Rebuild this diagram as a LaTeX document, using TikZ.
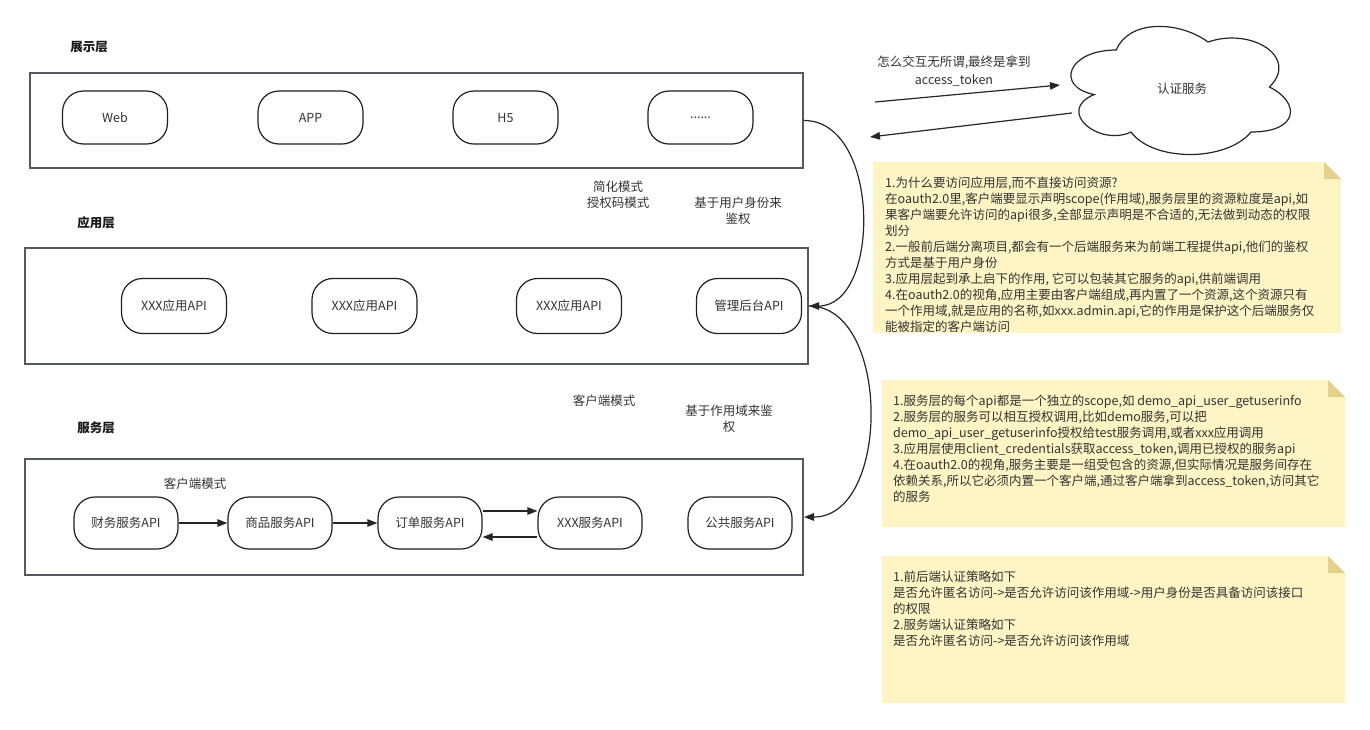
\documentclass[tikz,border=0pt]{standalone}
\usepackage{fontspec}
\setmainfont{Noto Sans CJK SC}
\usetikzlibrary{arrows.meta}
\definecolor{txt}{HTML}{333333}
\definecolor{layergray}{HTML}{55595E}
\definecolor{notefill}{HTML}{FFF4C3}
\definecolor{notefold}{HTML}{E6D08C}
\newcommand\fs{\fontsize{12.5}{16}\selectfont}
\newcommand\mynote[4]{%
  \fill[notefill] (#1,#2) -- ({#1+#3-17},#2) -- ({#1+#3},{#2+17}) -- ({#1+#3},{#2+#4}) -- (#1,{#2+#4}) -- cycle;
  \fill[notefold] ({#1+#3-17},#2) -- ({#1+#3-17},{#2+17}) -- ({#1+#3},{#2+17}) -- cycle;}
\begin{document}
\begin{tikzpicture}[x=1pt,y=-1pt,
  layer/.style={draw=layergray, line width=2pt, inner sep=0pt},
  pill/.style={draw=black!88, line width=1.2pt, rounded corners=21pt, minimum width=105pt, minimum height=53pt, font=\fs, text=txt, inner sep=0pt},
  head/.style={font=\fs\bfseries, text=black!90, inner sep=0pt},
  lbl/.style={font=\fs, text=txt, align=center, inner sep=0pt},
  arr/.style={draw=black!85, line width=1.2pt, -{Triangle[length=10pt,width=7.5pt]}},
  notetxt/.style={font=\fs, text=txt, inner sep=0pt, anchor=base west}]
\useasboundingbox (0,0) rectangle (1370,729);

% headers
\node[head] (h1) at (89,47) {展示层};
\node[head] (h2) at (96,223) {应用层};
\node[head] (h3) at (96,428) {服务层};

% layer boxes
\node[layer, minimum width=773pt, minimum height=95pt] (L1) at (416.5,120.5) {};
\node[layer, minimum width=783pt, minimum height=116pt] (L2) at (416.5,306) {};
\node[layer, minimum width=778pt, minimum height=116pt] (L3) at (414,517) {};

% presentation layer
\node[pill] (web) at (115,117.5) {Web};
\node[pill] (app) at (310.5,117.5) {APP};
\node[pill] (h5) at (505.5,117.5) {H5};
\node[pill] (more) at (700.5,117.5) {......};

% application layer
\node[pill, minimum height=55pt] (a1) at (174,306) {XXX应用API};
\node[pill, minimum height=55pt] (a2) at (364.5,306) {XXX应用API};
\node[pill, minimum height=55pt] (a3) at (569,306) {XXX应用API};
\node[pill, minimum height=55pt] (a4) at (749,306) {管理后台API};

% service layer
\node[pill, minimum width=104pt, minimum height=52pt] (s1) at (126,523) {财务服务API};
\node[pill, minimum width=104pt, minimum height=52pt] (s2) at (280,523) {商品服务API};
\node[pill, minimum width=104pt, minimum height=52pt] (s3) at (430,523) {订单服务API};
\node[pill, minimum width=104pt, minimum height=52pt] (s4) at (590,523) {XXX服务API};
\node[pill, minimum width=104pt, minimum height=52pt] (s5) at (740,523) {公共服务API};

\draw[arr] (s1) -- (s2);
\draw[arr] (s2) -- (s3);
\draw[arr] ([yshift=12pt]s3.east) -- ([yshift=12pt]s4.west);
\draw[arr] ([yshift=-14pt]s4.west) -- ([yshift=-14pt]s3.east);

% labels
\node[lbl] (l1) at (618,195) {简化模式\\授权码模式};
\node[lbl] (l2) at (738,211) {基于用户身份来\\鉴权};
\node[lbl] (l3) at (604,401) {客户端模式};
\node[lbl] (l4) at (729,419) {基于作用域来鉴\\权};
\node[lbl] (l5) at (195,484) {客户端模式};

% curves between layers
\draw[arr] (L1.east) .. controls +(77,0) and +(72,0) .. (L2.east);
\draw[arr] (L2.east) .. controls +(82,0) and +(87,0) .. (L3.east);

% cloud
\draw[draw=black!85, line width=1.2pt, fill=white]
  (1116.25,50) .. controls (1067.25,50) and (1055,87) .. (1094.2,94.5)
  .. controls (1055,111) and (1099.1,147) .. (1131,132)
  .. controls (1153,162) and (1226.5,162) .. (1251,132)
  .. controls (1300,132) and (1300,102) .. (1269.4,87)
  .. controls (1300,57) and (1251,27) .. (1208.1,42)
  .. controls (1177.5,20) and (1128.5,20) .. (1116.25,50) -- cycle;
\node[lbl] (auth) at (1182,89) {认证服务};

\coordinate (c1s) at (875,102);
\coordinate (c1e) at (1060,85);
\coordinate (c2s) at (1072,113);
\coordinate (c2e) at (870,137);
\draw[arr] (c1s) -- (c1e);
\draw[arr] (c2s) -- (c2e);
\node[lbl, font=\fontsize{12.5}{17.5}\selectfont] (l6) at (954,71) {怎么交互无所谓,最终是拿到\\access\_token};

% notes
\mynote{873}{162}{468}{171}
\mynote{882}{380}{463}{147}
\mynote{882}{556}{463}{147}

\node[notetxt] (n1) at (885,187) {\parbox[t]{460pt}{\raggedright
1.为什么要访问应用层,而不直接访问资源?\\
在oauth2.0里,客户端要显示声明scope(作用域),服务层里的资源粒度是api,如\\
果客户端要允许访问的api很多,全部显示声明是不合适的,无法做到动态的权限\\
划分\\
2.一般前后端分离项目,都会有一个后端服务来为前端工程提供api,他们的鉴权\\
方式是基于用户身份\\
3.应用层起到承上启下的作用, 它可以包装其它服务的api,供前端调用\\
4.在oauth2.0的视角,应用主要由客户端组成,再内置了一个资源,这个资源只有\\
一个作用域,就是应用的名称,如xxx.admin.api,它的作用是保护这个后端服务仅\\
能被指定的客户端访问}};

\node[notetxt] (n2) at (893,405) {\parbox[t]{450pt}{\raggedright
1.服务层的每个api都是一个独立的scope,如 demo\_api\_user\_getuserinfo\\
2.服务层的服务可以相互授权调用,比如demo服务,可以把\\
demo\_api\_user\_getuserinfo授权给test服务调用,或者xxx应用调用\\
3.应用层使用client\_credentials获取access\_token,调用已授权的服务api\\
4.在oauth2.0的视角,服务主要是一组受包含的资源,但实际情况是服务间存在\\
依赖关系,所以它必须内置一个客户端,通过客户端拿到access\_token,访问其它\\
的服务}};

\node[notetxt] (n3) at (893,581) {\parbox[t]{450pt}{\raggedright
1.前后端认证策略如下\\
是否允许匿名访问->是否允许访问该作用域->用户身份是否具备访问该接口\\
的权限\\
2.服务端认证策略如下\\
是否允许匿名访问->是否允许访问该作用域}};
\end{tikzpicture}
\end{document}
